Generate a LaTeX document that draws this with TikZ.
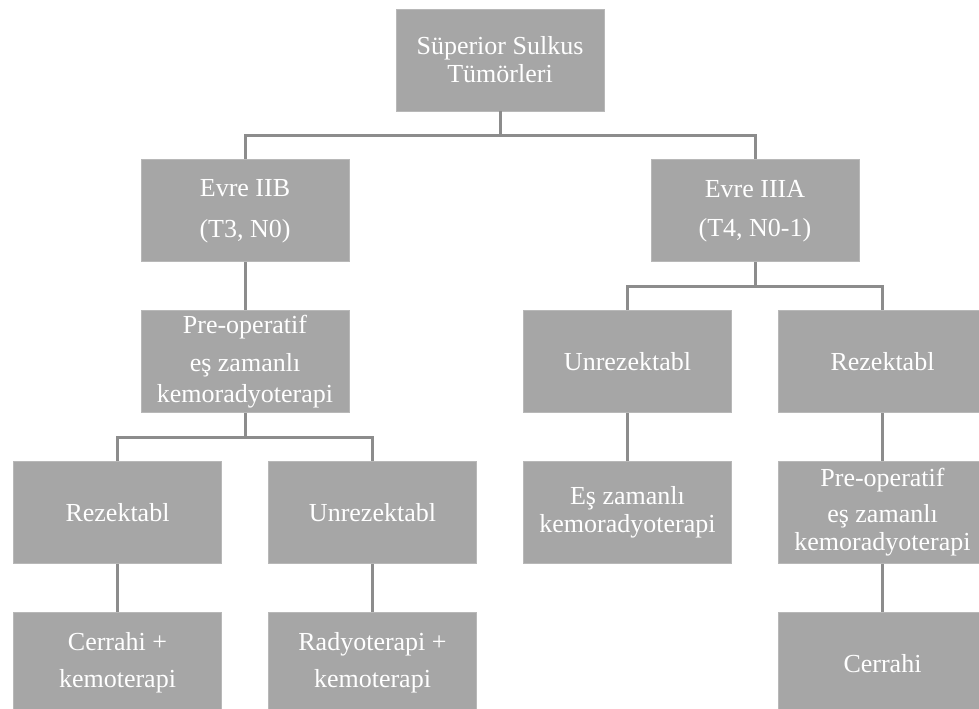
\documentclass[tikz,border=0pt]{standalone}
\usepackage{fontspec}
\setmainfont{Liberation Serif}
\usepackage{xcolor}
\usepackage{tikz}
\usetikzlibrary{positioning, calc}

\begin{document}
\begin{tikzpicture}[
    box/.style={fill=black!35, draw=black!28, line width=0.4pt, minimum width=104pt, minimum height=51pt,
        inner sep=1pt, align=center, text=white, font=\fontsize{13}{14}\selectfont},
    link/.style={draw=black!45, line width=1.5pt},
    node distance=24pt and 23.5pt]
    \clip (0,0) rectangle (489.5pt,-354pt);
    % Root
    \node[box] (root) at (250pt,-30pt) {S\"uperior Sulkus\\T\"um\"orleri};

    % Stages
    \node[box, anchor=north] (iib) at ($(root.south)+(-127.5pt,-24pt)$) {Evre IIB\\[6.5pt](T3, N0)};
    \node[box, anchor=north] (iiia) at ($(root.south)+(127.5pt,-24pt)$) {Evre IIIA\\[5.5pt](T4, N0-1)};

    % Left branch
    \node[box, below=of iib] (preL) {Pre-operatif\\[5pt]e\c{s} zamanl\i\\[1.5pt]kemoradyoterapi};
    \node[box, below=of preL, xshift=-63.75pt] (rezL) {Rezektabl};
    \node[box, below=of preL, xshift=63.75pt] (unrezL) {Unrezektabl};
    \node[box, below=of rezL] (cerKem) {Cerrahi +\\[4.5pt]kemoterapi};
    \node[box, below=of unrezL] (radKem) {Radyoterapi +\\[4.5pt]kemoterapi};

    % Right branch
    \node[box, below=of iiia, xshift=-63.75pt] (unrezR) {Unrezektabl};
    \node[box, below=of iiia, xshift=63.75pt] (rezR) {Rezektabl};
    \node[box, below=of unrezR] (esZ) {E\c{s} zamanl\i\\kemoradyoterapi};
    \node[box, below=of rezR] (preR) {Pre-operatif\\[4pt]e\c{s} zamanl\i\\kemoradyoterapi};
    \node[box, below=of preR] (cer) {Cerrahi};

    % Connectors
    \draw[link] (root.south) -- ++(0,-12pt) -| (iib.north);
    \draw[link] (root.south) -- ++(0,-12pt) -| (iiia.north);
    \draw[link] (iib) -- (preL);
    \draw[link] (preL.south) -- ++(0,-12pt) -| (rezL.north);
    \draw[link] (preL.south) -- ++(0,-12pt) -| (unrezL.north);
    \draw[link] (rezL) -- (cerKem);
    \draw[link] (unrezL) -- (radKem);
    \draw[link] (iiia.south) -- ++(0,-12pt) -| (unrezR.north);
    \draw[link] (iiia.south) -- ++(0,-12pt) -| (rezR.north);
    \draw[link] (unrezR) -- (esZ);
    \draw[link] (rezR) -- (preR);
    \draw[link] (preR) -- (cer);

\end{tikzpicture}
\end{document}
